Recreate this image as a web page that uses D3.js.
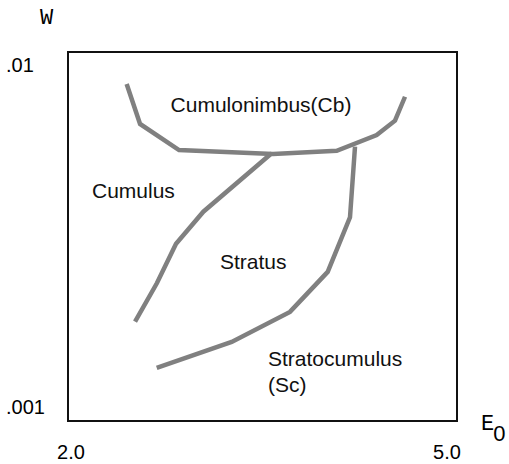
<!DOCTYPE html>
<html>
<head>
<meta charset="utf-8">
<script src="https://cdn.jsdelivr.net/npm/d3@7"></script>
<style>
  body { margin: 0; background: #fff; }
  svg { display: block; }
</style>
</head>
<body>
<div id="chart"></div>
<script>
// boundary curves (E0, W)
const cumulonimbusE = [2.444, 2.551, 2.862, 3.612, 4.120, 4.439, 4.585, 4.665];
const cumulonimbusW = [0.00886, 0.00677, 0.00568, 0.00553, 0.00565, 0.00628, 0.00692, 0.00813];

const cumulusE = [3.601, 3.056, 2.838, 2.686, 2.511];
const cumulusW = [0.00556, 0.00375, 0.00302, 0.00232, 0.00179];

const stratusE = [4.266, 4.226, 4.048, 3.747, 3.282, 2.684];
const stratusW = [0.00581, 0.00361, 0.00250, 0.00191, 0.00156, 0.00131];

const xTicks = [2.0, 5.0];
const yTicks = [0.001, 0.01];
const xTickLabels = ['2.0', '5.0'];
const yTickLabels = ['.001', '.01'];

const regionNames = ['Cumulonimbus(Cb)', 'Cumulus', 'Stratus', 'Stratocumulus', '(Sc)'];

const width = 509, height = 464;

const x = d3.scaleLinear().domain([2, 5]).range([71, 447]);
const y = d3.scaleLog().domain([0.001, 0.01]).range([408, 66]);

const svg = d3.select('#chart').append('svg')
    .attr('width', width)
    .attr('height', height);

// frame
svg.append('rect')
    .attr('x', 68).attr('y', 52)
    .attr('width', 389).attr('height', 369)
    .attr('fill', 'none')
    .attr('stroke', '#111')
    .attr('stroke-width', 2);

const line = d3.line()
    .x(d => x(d[0]))
    .y(d => y(d[1]));

const curves = [
    d3.zip(cumulonimbusE, cumulonimbusW),
    d3.zip(cumulusE, cumulusW),
    d3.zip(stratusE, stratusW)
];

svg.selectAll('path.boundary')
    .data(curves)
    .enter().append('path')
    .attr('class', 'boundary')
    .attr('d', line)
    .attr('fill', 'none')
    .attr('stroke', '#808080')
    .attr('stroke-width', 4.5)
    .attr('stroke-linejoin', 'miter');

// tick labels
const labelFont = '"Liberation Sans", Arial, sans-serif';

svg.selectAll('text.xtick')
    .data(xTicks)
    .enter().append('text')
    .attr('class', 'xtick')
    .attr('x', d => x(d))
    .attr('y', 459)
    .attr('text-anchor', 'middle')
    .style('font-family', labelFont)
    .style('font-size', '20px')
    .text((d, i) => xTickLabels[i]);

svg.selectAll('text.ytick')
    .data(yTicks)
    .enter().append('text')
    .attr('class', 'ytick')
    .attr('x', 6)
    .attr('y', d => y(d) + 6)
    .style('font-family', labelFont)
    .style('font-size', '20px')
    .text((d, i) => yTickLabels[i]);

// axis names
const monoFont = '"Liberation Mono", "DejaVu Sans Mono", monospace';

svg.append('text')
    .attr('x', 40).attr('y', 24)
    .style('font-family', monoFont)
    .style('font-size', '22px')
    .text('W');

const e0 = svg.append('text')
    .attr('x', 481).attr('y', 430)
    .style('font-family', monoFont)
    .style('font-size', '22px');
e0.append('tspan').text('E');
e0.append('tspan')
    .attr('dy', 11)
    .attr('dx', -1)
    .style('font-family', labelFont)
    .style('font-size', '22px')
    .text('0');

// region names
const regionPos = [
    { x: 261, y: 112, anchor: 'middle' },
    { x: 92, y: 198, anchor: 'start' },
    { x: 220, y: 269, anchor: 'start' },
    { x: 268, y: 366, anchor: 'start' },
    { x: 268, y: 392, anchor: 'start' }
];

svg.selectAll('text.region')
    .data(regionNames)
    .enter().append('text')
    .attr('class', 'region')
    .attr('x', (d, i) => regionPos[i].x)
    .attr('y', (d, i) => regionPos[i].y)
    .attr('text-anchor', (d, i) => regionPos[i].anchor)
    .style('font-family', labelFont)
    .style('font-size', '21px')
    .style('fill', '#111')
    .text(d => d);
</script>
</body>
</html>
